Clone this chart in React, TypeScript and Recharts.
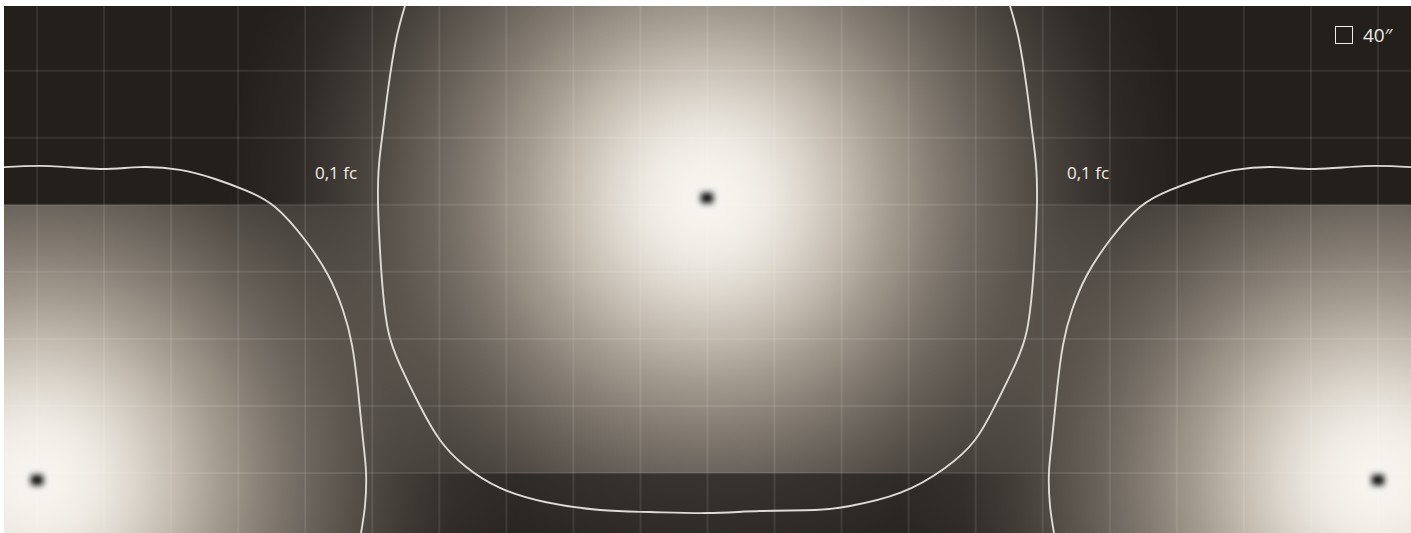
import React from 'react';
import { ScatterChart, Scatter, XAxis, YAxis } from 'recharts';

// Plan coordinates in inches (grid square = 40")
const xDomain: [number, number] = [-19.7, 819.7];
const yDomain: [number, number] = [-35.8, 278.6];
const xGridTicks = [0, 40, 80, 120, 160, 200, 240, 280, 320, 360, 400, 440, 480, 520, 560, 600, 640, 680, 720, 760, 800];
const yGridTicks = [0, 40, 80, 120, 160, 200, 240];

const lightsCenter = [{ x: 399.7, y: 164.1 }];
const lightsSide = [{ x: 0, y: -4.2 }, { x: 800, y: -4.2 }];
const allLights = [...lightsSide, ...lightsCenter];

// calculation bands of the rendering
const bandUpperEdge = [{ x: -19.7, y: 0 }];
const bandLowerEdge = [{ x: -19.7, y: 160 }];

const contourCenter = [
  { x: 219.5, y: 278.6 }, { x: 214.2, y: 258.3 }, { x: 209.4, y: 228.5 }, { x: 206.4, y: 204.6 },
  { x: 204.0, y: 183.7 }, { x: 203.4, y: 164.1 }, { x: 204.0, y: 145.0 }, { x: 205.8, y: 115.1 },
  { x: 209.4, y: 85.3 }, { x: 216.6, y: 64.4 }, { x: 228.5, y: 40.0 }, { x: 240.4, y: 19.7 },
  { x: 255.3, y: 4.2 }, { x: 276.2, y: -8.9 }, { x: 303.1, y: -17.3 }, { x: 335.9, y: -22.1 },
  { x: 365.7, y: -23.3 }, { x: 399.7, y: -23.9 }, { x: 431.3, y: -22.7 }, { x: 464.1, y: -22.1 },
  { x: 485.0, y: -19.7 }, { x: 514.8, y: -11.9 }, { x: 541.7, y: 3.0 }, { x: 559.6, y: 19.7 },
  { x: 571.5, y: 40.0 }, { x: 583.4, y: 64.4 }, { x: 590.6, y: 85.3 }, { x: 594.2, y: 115.1 },
  { x: 596.0, y: 145.0 }, { x: 596.6, y: 164.1 }, { x: 596.0, y: 183.7 }, { x: 593.6, y: 204.6 },
  { x: 590.6, y: 228.5 }, { x: 585.8, y: 258.3 }, { x: 580.5, y: 278.6 },
];

const contourLeft = [
  { x: -19.7, y: 182.5 }, { x: 7.8, y: 183.1 }, { x: 37.6, y: 181.4 }, { x: 61.5, y: 182.5 },
  { x: 85.3, y: 180.8 }, { x: 106.2, y: 175.4 }, { x: 124.1, y: 168.8 }, { x: 142.0, y: 158.7 },
  { x: 159.9, y: 139.0 }, { x: 173.6, y: 118.1 }, { x: 182.5, y: 97.2 }, { x: 187.9, y: 76.4 },
  { x: 191.5, y: 49.5 }, { x: 194.5, y: 19.7 }, { x: 196.3, y: 0 }, { x: 195.7, y: -19.1 },
  { x: 193.3, y: -35.8 },
];

const contourRight = [
  { x: 819.7, y: 182.5 }, { x: 792.2, y: 183.1 }, { x: 762.4, y: 181.4 }, { x: 738.5, y: 182.5 },
  { x: 714.7, y: 180.8 }, { x: 693.8, y: 175.4 }, { x: 675.9, y: 168.8 }, { x: 658.0, y: 158.7 },
  { x: 640.1, y: 139.0 }, { x: 626.4, y: 118.1 }, { x: 617.5, y: 97.2 }, { x: 612.1, y: 76.4 },
  { x: 608.5, y: 49.5 }, { x: 605.5, y: 19.7 }, { x: 603.7, y: 0 }, { x: 604.3, y: -19.1 },
  { x: 606.7, y: -35.8 },
];

const isoLabels = [
  { x: 178.4, y: 179.0, text: '0,1 fc' },
  { x: 627.0, y: 179.0, text: '0,1 fc' },
];
const legendLabel = '40″';

// grid line segments built from the tick lists
const vGridLines = xGridTicks.map((t) => [{ x: t, y: yDomain[0] }, { x: t, y: yDomain[1] }]);
const hGridLines = yGridTicks.map((t) => [{ x: xDomain[0], y: t }, { x: xDomain[1], y: t }]);

const BG = '#231f1b';
const FONT = '"Open Sans", "Noto Sans", sans-serif';

// [offset, colour, opacity]
const glowStops: [number, string, number][] = [
  [0, '#f7f5f0', 1], [0.06, '#f5f2ec', 1], [0.12, '#efebe4', 1], [0.2, '#ddd7ce', 1],
  [0.29, '#c3bbb0', 1], [0.385, '#a39a8f', 1], [0.48, '#a39a8f', 0.765], [0.577, '#a39a8f', 0.55],
  [0.673, '#a39a8f', 0.37], [0.77, '#a39a8f', 0.21], [0.865, '#a39a8f', 0.085], [1, '#a39a8f', 0],
];

const GLOW_R = 480;

const Defs = () => (
  <defs>
    <radialGradient id="glowGrad" cx="50%" cy="50%" r="50%">
      {glowStops.map(([o, c, a]) => (
        <stop key={o} offset={o} stopColor={c} stopOpacity={a} />
      ))}
    </radialGradient>
    <filter id="coreBlur" x="-100%" y="-100%" width="300%" height="300%">
      <feGaussianBlur stdDeviation="3" />
    </filter>
  </defs>
);

const clipAboveShape = (p: any) => (
  <clipPath id="clipAbove">
    <rect x={-5000} y={-5000} width={10000} height={5000 + p.cy} />
  </clipPath>
);
const clipBelowZeroShape = (p: any) => (
  <clipPath id="clipBelowZero">
    <rect x={-5000} y={p.cy} width={10000} height={5000} />
  </clipPath>
);
const clipBelowShape = (p: any) => (
  <clipPath id="clipBelow">
    <rect x={-5000} y={p.cy} width={10000} height={5000} />
  </clipPath>
);

const makeGlow = (clip: string, opacity: number) => (p: any) => (
  <g clipPath={`url(#${clip})`} opacity={opacity}>
    <Defs />
    <circle cx={p.cx} cy={p.cy} r={GLOW_R} fill="url(#glowGrad)" />
  </g>
);

const coreShape = (p: any) => (
  <rect x={p.cx - 6} y={p.cy - 5} width={12} height={10} fill="#000" filter="url(#coreBlur)" />
);

const labelShape = (p: any) => (
  <text
    x={p.cx}
    y={p.cy}
    textAnchor="middle"
    dominantBaseline="central"
    fontFamily={FONT}
    fontSize={17}
    fill="#f1eee9"
  >
    {p.payload.text}
  </text>
);

const noShape = () => <g />;
const contourLine = { stroke: '#dedad4', strokeWidth: 1.9 };
const gridLine = { stroke: '#ffffff', strokeOpacity: 0.09, strokeWidth: 2 };

export default function App() {
  return (
    <div style={{ margin: 0 }}>
      <style>{`html,body{margin:0;padding:0;overflow:hidden;background:#fff}`}</style>
      <div
        style={{
          position: 'relative',
          marginLeft: 4,
          marginTop: 6,
          width: 1407,
          height: 527,
          overflow: 'hidden',
          background: BG,
        }}
      >
        <ScatterChart width={1407} height={527} margin={{ top: 0, right: 0, bottom: 0, left: 0 }}>
          <XAxis type="number" dataKey="x" domain={xDomain} ticks={xGridTicks} hide allowDataOverflow />
          <YAxis type="number" dataKey="y" domain={yDomain} ticks={yGridTicks} hide allowDataOverflow />
          <Scatter data={bandUpperEdge} shape={clipAboveShape} isAnimationActive={false} />
          <Scatter data={bandUpperEdge} shape={clipBelowZeroShape} isAnimationActive={false} />
          <Scatter data={bandLowerEdge} shape={clipBelowShape} isAnimationActive={false} />
          <Scatter data={lightsCenter} shape={makeGlow('clipAbove', 1)} isAnimationActive={false} />
          <Scatter data={lightsCenter} shape={makeGlow('clipBelowZero', 0.3)} isAnimationActive={false} />
          <Scatter data={lightsSide} shape={makeGlow('clipBelow', 1)} isAnimationActive={false} />
          {vGridLines.map((seg, i) => (
            <Scatter key={`v${i}`} data={seg} line={gridLine} shape={noShape} isAnimationActive={false} />
          ))}
          {hGridLines.map((seg, i) => (
            <Scatter key={`h${i}`} data={seg} line={gridLine} shape={noShape} isAnimationActive={false} />
          ))}
          <Scatter data={contourCenter} line={contourLine} lineJointType="natural" shape={noShape} isAnimationActive={false} />
          <Scatter data={contourLeft} line={contourLine} lineJointType="natural" shape={noShape} isAnimationActive={false} />
          <Scatter data={contourRight} line={contourLine} lineJointType="natural" shape={noShape} isAnimationActive={false} />
          <Scatter data={allLights} shape={coreShape} isAnimationActive={false} />
          <Scatter data={isoLabels} shape={labelShape} isAnimationActive={false} />
        </ScatterChart>
        <div
          style={{
            position: 'absolute',
            left: 1331,
            top: 20,
            display: 'flex',
            alignItems: 'center',
            gap: 10,
            fontFamily: FONT,
            fontSize: 19,
            lineHeight: '18px',
            color: '#f0ede8',
          }}
        >
          <div style={{ width: 18, height: 18, border: '1.6px solid #f0ede8', boxSizing: 'border-box' }} />
          <span>{legendLabel}</span>
        </div>
      </div>
    </div>
  );
}
